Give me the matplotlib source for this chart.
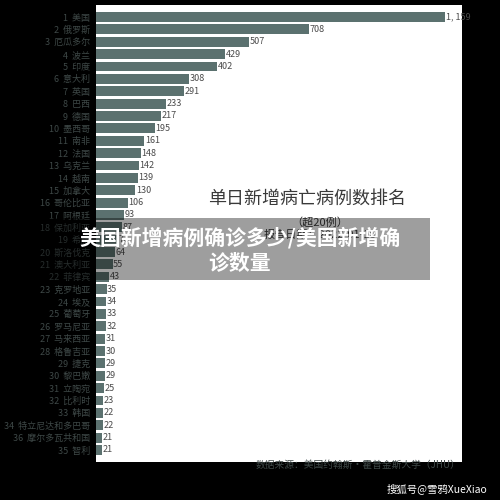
import matplotlib
matplotlib.use("Agg")
import matplotlib.pyplot as plt
from matplotlib.patches import Rectangle

plt.rcParams['font.family'] = ['Noto Sans CJK SC', 'DejaVu Sans']

ranks = [str(i) for i in range(1, 35)] + ["36", "35"]
countries = ["美国", "俄罗斯", "厄瓜多尔", "波兰", "印度", "意大利", "英国", "巴西", "德国",
             "墨西哥", "南非", "法国", "乌克兰", "越南", "加拿大", "哥伦比亚", "阿根廷",
             "保加利亚", "希腊", "斯洛伐克", "澳大利亚", "菲律宾", "克罗地亚", "埃及",
             "葡萄牙", "罗马尼亚", "马来西亚", "格鲁吉亚", "捷克", "黎巴嫩", "立陶宛",
             "比利时", "韩国", "特立尼达和多巴哥", "摩尔多瓦共和国", "智利"]
deaths = [1159, 708, 507, 429, 402, 308, 291, 233, 217, 195, 161, 148, 142, 139, 130,
          106, 93, 87, 72, 64, 55, 43, 35, 34, 33, 32, 31, 30, 29, 29, 25, 23, 22, 22, 21, 21]

bar_color = "#5b716f"
label_color = "#3e4847"

fig = plt.figure(figsize=(5, 5), dpi=100, facecolor="black")
ax = fig.add_axes([96 / 500, 38 / 500, 366 / 500, 457 / 500])
ax.set_facecolor("white")

y = list(range(len(deaths)))
ax.barh(y, deaths, height=0.8, color=bar_color)
ax.set_ylim(len(deaths) - 0.03, -0.97)
ax.set_xlim(0, 1215)

for yi, v in zip(y, deaths):
    ax.text(v + 2, yi, f"{v:,}".replace(",", ", "), va="center", ha="left",
            fontsize=6.5, color="#4a4a4a", clip_on=False)

ax.set_yticks(y)
ax.set_yticklabels([f"{r}  {c}" for r, c in zip(ranks, countries)],
                   fontsize=6.5, color=label_color)
ax.tick_params(axis="y", length=0, pad=4)
ax.set_xticks([])
for s in ax.spines.values():
    s.set_visible(False)

# title block inside the chart
fig.text(0.614, 0.602, "单日新增病亡病例数排名", ha="center", va="center",
         fontsize=13, color="#3a3a3a")
fig.text(0.64, 0.556, "（超20例）", ha="center", va="center",
         fontsize=8, color="#3a3a3a")
fig.text(0.64, 0.53, "报告日期：2022-01-18", ha="center", va="center",
         fontsize=8, color="#3a3a3a")

# source line
fig.text(0.512, 0.07, "数据来源：美国约翰斯・霍普金斯大学（JHU）", ha="left", va="center",
         fontsize=7, color="#3e4847")

# overlay banner
fig.patches.append(Rectangle((0, 220 / 500), 430 / 500, 62 / 500, transform=fig.transFigure,
                             facecolor="black", alpha=0.38, edgecolor="none", zorder=5))
fig.text(0.48, 0.524, "美国新增病例确诊多少/美国新增确", ha="center", va="center",
         fontsize=15, fontweight="bold", color="white", zorder=6)
fig.text(0.48, 0.474, "诊数量", ha="center", va="center",
         fontsize=15, fontweight="bold", color="white", zorder=6)

fig.text(0.974, 0.022, "搜狐号@雪鸦XueXiao", ha="right", va="center",
         fontsize=7.5, color="white")

fig.savefig("out.png", dpi=100, facecolor="black")
